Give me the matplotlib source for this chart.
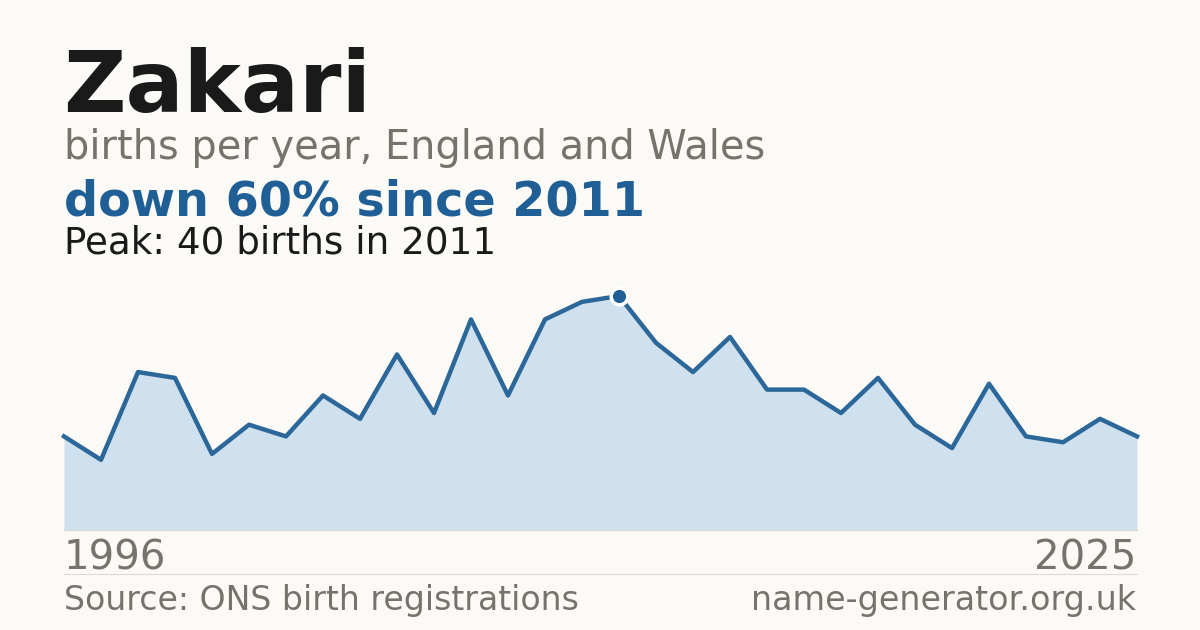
import matplotlib
matplotlib.use("Agg")
import matplotlib.pyplot as plt

plt.rcParams["font.family"] = ["DejaVu Sans"]

# data
years = list(range(1996, 2026))
births = [16, 12, 27, 26, 13, 18, 16, 23, 19, 30,
          20, 36, 23, 36, 39, 40, 32, 27, 33, 24,
          24, 20, 26, 18, 14, 25, 16, 15, 19, 16]

name = "Zakari"
subtitle = "births per year, England and Wales"
headline = "down 60% since 2011"
peak_note = "Peak: 40 births in 2011"
source = "Source: ONS birth registrations"
site = "name-generator.org.uk"

BG = "#fbfaf6"
BLUE = "#1f5f95"
FILL = "#cfe0ef"
GREY = "#77736c"
INK = "#1a1a1a"

W, H = 1200, 630
fig = plt.figure(figsize=(W / 100, H / 100), dpi=100, facecolor=BG)


def fy(py):
    return 1 - py / H


def fx(px):
    return px / W


ax = fig.add_axes([fx(64), fy(530), fx(1137) - fx(64), (530 - 296) / H])
ax.set_facecolor(BG)
ax.fill_between(years, births, 0, color=FILL, linewidth=0)
ax.plot(years, births, color="#2c6799", linewidth=3.2, clip_on=False)

peak_i = births.index(max(births))
ax.plot(years[peak_i], births[peak_i], "o", markersize=12, color=BLUE,
        markeredgecolor="white", markeredgewidth=2.5, clip_on=False, zorder=5)

ax.set_xlim(years[0], years[-1])
ax.set_ylim(0, max(births))
for s in ax.spines.values():
    s.set_visible(False)
ax.set_xticks([])
ax.set_yticks([])
ax.axhline(0, color="#dcdad4", linewidth=1, clip_on=False)

# separator line
fig.add_artist(plt.Line2D([fx(64), fx(1137)], [fy(574), fy(574)], color="#dcdad4", linewidth=0.8))

fig.text(fx(63), fy(112), name, fontsize=62, fontweight="bold", color=INK, va="baseline")
fig.text(fx(64), fy(159), subtitle, fontsize=28.7, color=GREY, va="baseline")
fig.text(fx(64), fy(215), headline, fontsize=34.4, fontweight="bold", color=BLUE, va="baseline")
fig.text(fx(64), fy(253), peak_note, fontsize=26.8, color=INK, va="baseline")

fig.text(fx(64), fy(570), str(years[0]), fontsize=29, color=GREY, va="baseline")
fig.text(fx(1136), fy(570), str(years[-1]), fontsize=29, color=GREY, va="baseline", ha="right")
fig.text(fx(64), fy(610), source, fontsize=23.9, color=GREY, va="baseline")
fig.text(fx(1136), fy(610), site, fontsize=24, color=GREY, va="baseline", ha="right")

plt.savefig("out.png", dpi=100, facecolor=BG)
